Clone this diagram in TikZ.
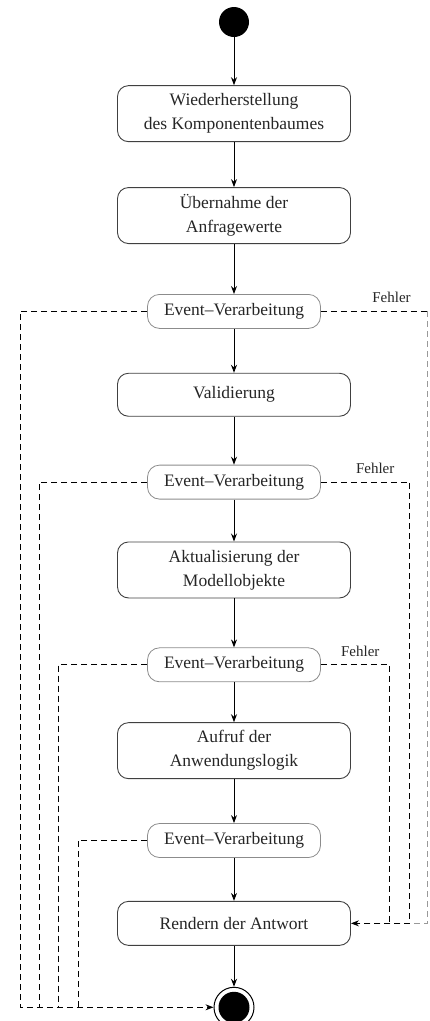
\documentclass[tikz,border=0pt]{standalone}
\usepackage{fontspec}
\setmainfont{Liberation Serif}
\usetikzlibrary{arrows.meta,positioning}
\tikzstyle{activity}=[
  draw=black!75,
  font={\fontsize{17.5}{24}\selectfont},
  inner sep=0pt,
  line width=.9pt,
  minimum height=56pt,
  minimum width=233pt,
  rectangle,
  rounded corners=11pt,
  align=center,
  text=black!85,
]
\tikzstyle{event}=[
  draw=black!45,
  font={\fontsize{17.5}{24}\selectfont},
  inner sep=0pt,
  line width=.8pt,
  minimum height=34pt,
  minimum width=173pt,
  rectangle,
  rounded corners=12pt,
  text=black!85,
]
\tikzstyle{arrow}=[
  draw=black,
  line width=1pt,
]
\tikzstyle{error}=[
  draw=black,
  line width=1pt,
  dash pattern=on 6pt off 4pt,
]
\tikzstyle{errorlabel}=[
  font={\fontsize{15}{18}\selectfont},
  inner sep=0pt,
  text=black!85,
]
\tikzset{
  >={Stealth[length=8pt,width=6pt]},
}
\begin{document}
\begin{tikzpicture}
      \useasboundingbox (0,0) rectangle (429pt,-1021pt);
      \node (start) [circle, fill=black, minimum size=30pt, inner sep=0pt] at (234pt,-22pt) {};
      \node (restore) [activity, below=48pt of start] {Wiederherstellung\\des Komponentenbaumes};
      \node (apply) [activity, below=45pt of restore] {Übernahme der\\Anfragewerte};
      \node (ev1) [event, below=50pt of apply] {Event--Verarbeitung};
      \node (validate) [activity, minimum height=43pt, below=44pt of ev1] {Validierung};
      \node (ev2) [event, below=48pt of validate] {Event--Verarbeitung};
      \node (update) [activity, below=42pt of ev2] {Aktualisierung der\\Modellobjekte};
      \node (ev3) [event, below=49pt of update] {Event--Verarbeitung};
      \node (invoke) [activity, below=40pt of ev3] {Aufruf der\\Anwendungslogik};
      \node (ev4) [event, below=44pt of invoke] {Event--Verarbeitung};
      \node (render) [activity, minimum height=44pt, below=43pt of ev4] {Rendern der Antwort};
      \node (finish) [circle, draw=black, line width=1pt, minimum size=40pt, inner sep=0pt, below=41pt of render] {};
      \node (finishdot) [circle, fill=black, minimum size=31pt, inner sep=0pt] at (finish) {};
      %%
      \coordinate (L1) at ([xshift=-214pt]finish.center);
      \coordinate (L2) at ([xshift=-195pt]finish.center);
      \coordinate (L3) at ([xshift=-176pt]finish.center);
      \coordinate (L4) at ([xshift=-156pt]finish.center);
      \coordinate (R1) at ([xshift=77pt]render.east);
      \coordinate (R2) at ([xshift=59pt]render.east);
      \coordinate (R3) at ([xshift=39pt]render.east);
      %%
      \draw [->, arrow] (start) -- (restore);
      \draw [->, arrow] (restore) -- (apply);
      \draw [->, arrow] (apply) -- (ev1);
      \draw [->, arrow] (ev1) -- (validate);
      \draw [->, arrow] (validate) -- (ev2);
      \draw [->, arrow] (ev2) -- (update);
      \draw [->, arrow] (update) -- (ev3);
      \draw [->, arrow] (ev3) -- (invoke);
      \draw [->, arrow] (invoke) -- (ev4);
      \draw [->, arrow] (ev4) -- (render);
      \draw [->, arrow] (render) -- (finish);
      %% error paths
      \draw [error] (ev1.east) -- node [errorlabel, above=8pt, pos=.66] {Fehler} (ev1.east -| R1);
      \draw [error, draw=black!40] (ev1.east -| R1) -- (R1) -- (R2);
      \draw [->, error] (ev2.east) -- node [errorlabel, above=8pt, pos=.61] {Fehler} (ev2.east -| R2)
      -- (R2) -- (render.east);
      \draw [error] (ev3.east) -- node [errorlabel, above=8pt, pos=.57] {Fehler} (ev3.east -| R3)
      -- (R3);
      %% skip paths
      \draw [->, error] (ev1.west) -| (L1) -- (finish);
      \draw [error] (ev2.west) -| (L2);
      \draw [error] (ev3.west) -| (L3);
      \draw [error] (ev4.west) -| (L4);
    \end{tikzpicture}
\end{document}
